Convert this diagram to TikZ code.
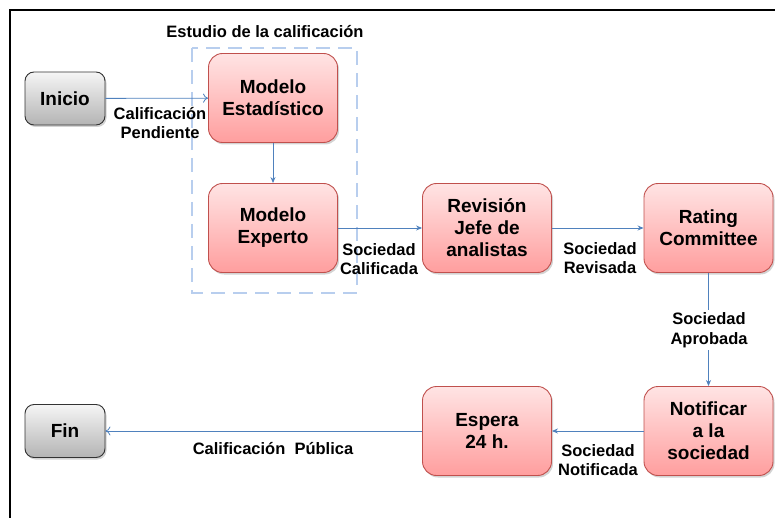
\documentclass[tikz,border=0pt]{standalone}
\usepackage{fontspec}
\setmainfont{Liberation Sans}
\usetikzlibrary{shadows,arrows.meta}
\definecolor{pinkTop}{RGB}{255,228,228}
\definecolor{pinkBot}{RGB}{255,158,158}
\definecolor{pinkBorder}{RGB}{192,80,77}
\definecolor{grayTop}{RGB}{245,245,245}
\definecolor{grayBot}{RGB}{180,180,180}
\definecolor{flowBlue}{RGB}{79,129,189}
\definecolor{dashBlue}{RGB}{184,206,238}
\tikzset{
  procbox/.style={draw=pinkBorder, line width=0.9pt, rounded corners=14pt,
    top color=pinkTop, bottom color=pinkBot, minimum width=129pt, minimum height=89pt,
    align=center, font=\bfseries\fontsize{19}{22}\selectfont, inner sep=2pt,
    drop shadow={shadow xshift=1.5pt, shadow yshift=-2pt, opacity=0.35}},
  termbox/.style={draw=black!80, line width=0.9pt, rounded corners=9pt,
    top color=grayTop, bottom color=grayBot, minimum width=80pt, minimum height=53pt,
    align=center, font=\bfseries\fontsize{19}{22}\selectfont,
    drop shadow={shadow xshift=1.5pt, shadow yshift=-2pt, opacity=0.35}},
  flowlbl/.style={align=center, font=\bfseries\fontsize{16.5}{19.5}\selectfont, inner sep=1pt},
  flow/.style={draw=flowBlue, line width=0.8pt, -{Stealth[length=6pt,width=5pt]}},
  openflow/.style={draw=flowBlue, line width=0.8pt, -{To[length=5pt,width=9pt]}},
}
\begin{document}
\begin{tikzpicture}[x=1pt,y=-1pt]
\useasboundingbox (0,0) rectangle (775,518);
\draw[line width=2pt] (9.5,518) -- (9.5,10.5) -- (775,10.5);
% group
\draw[dashBlue, line width=1.8pt, dash pattern=on 14pt off 8pt] (192,48) rectangle (357,293);
\node[flowlbl] (grp) at (265,32) {Estudio de la calificación};
% nodes
\node[termbox] (ini) at (65,98.5) {Inicio};
\node[procbox] (mest) at (273,98) {Modelo\\Estadístico};
\node[procbox] (mexp) at (273,228) {Modelo\\Experto};
\node[procbox] (rev) at (487,228) {Revisión\\Jefe de\\analistas};
\node[procbox] (rat) at (708.5,228) {Rating\\Committee};
\node[procbox] (not) at (708.5,431) {Notificar\\a la\\sociedad};
\node[procbox] (esp) at (487,431) {Espera\\24 h.};
\node[termbox] (fin) at (65,431) {Fin};
% connectors
\draw[openflow] (ini) -- (mest);
\draw[flow] (mest) -- (mexp);
\draw[flow] (mexp) -- (rev);
\draw[flow] (rev) -- (rat);
\draw[flow] (rat) -- (not);
\draw[flow] (not) -- (esp);
\draw[openflow] (esp) -- (fin);
% labels
\node[flowlbl] (l1) at (160,123) {Calificación\\Pendiente};
\node[flowlbl] (l2) at (379,259) {Sociedad\\Calificada};
\node[flowlbl] (l3) at (600,258) {Sociedad\\Revisada};
\node[flowlbl, fill=white, inner sep=3pt] (l4) at (709,330) {Sociedad\\Aprobada};
\node[flowlbl] (l5) at (598,460) {Sociedad\\Notificada};
\node[flowlbl] (l6) at (273,449) {Calificación\ \ Pública};
\end{tikzpicture}
\end{document}
